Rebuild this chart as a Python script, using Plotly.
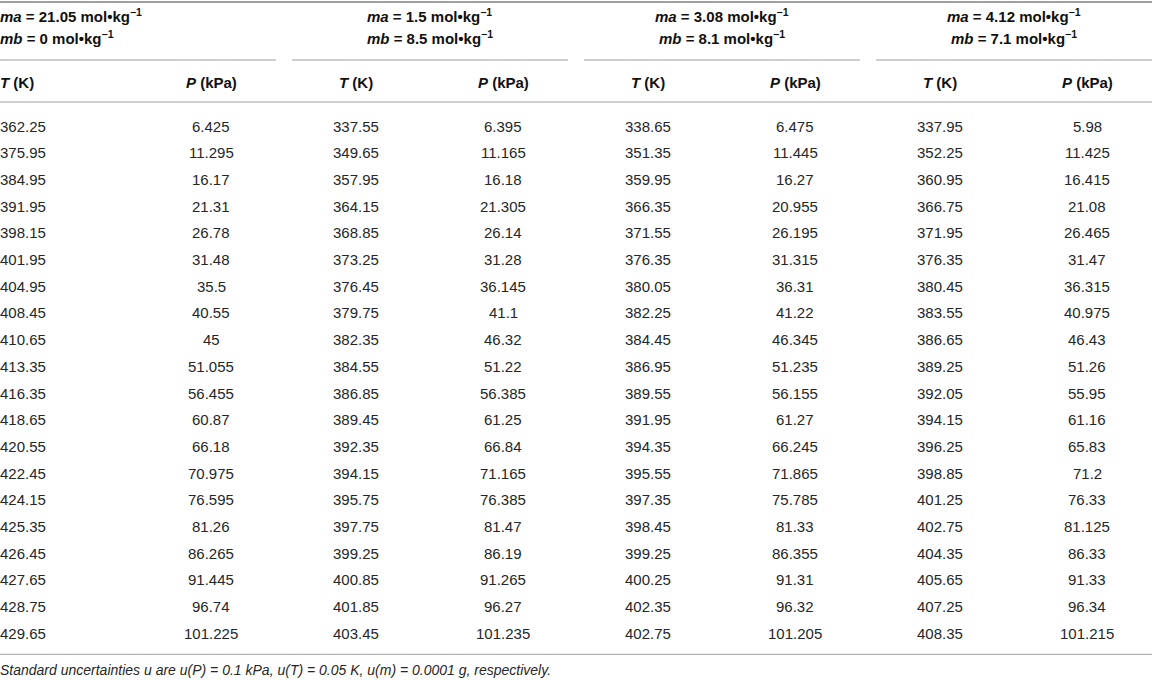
import plotly.graph_objects as go

# molalities of each measured series
ma_vals = ["21.05", "1.5", "3.08", "4.12"]
mb_vals = ["0", "8.5", "8.1", "7.1"]

# boiling temperatures (K) and pressures (kPa)
t_1 = ["362.25", "375.95", "384.95", "391.95", "398.15", "401.95", "404.95", "408.45", "410.65", "413.35",
       "416.35", "418.65", "420.55", "422.45", "424.15", "425.35", "426.45", "427.65", "428.75", "429.65"]
p_1 = ["6.425", "11.295", "16.17", "21.31", "26.78", "31.48", "35.5", "40.55", "45", "51.055",
       "56.455", "60.87", "66.18", "70.975", "76.595", "81.26", "86.265", "91.445", "96.74", "101.225"]
t_2 = ["337.55", "349.65", "357.95", "364.15", "368.85", "373.25", "376.45", "379.75", "382.35", "384.55",
       "386.85", "389.45", "392.35", "394.15", "395.75", "397.75", "399.25", "400.85", "401.85", "403.45"]
p_2 = ["6.395", "11.165", "16.18", "21.305", "26.14", "31.28", "36.145", "41.1", "46.32", "51.22",
       "56.385", "61.25", "66.84", "71.165", "76.385", "81.47", "86.19", "91.265", "96.27", "101.235"]
t_3 = ["338.65", "351.35", "359.95", "366.35", "371.55", "376.35", "380.05", "382.25", "384.45", "386.95",
       "389.55", "391.95", "394.35", "395.55", "397.35", "398.45", "399.25", "400.25", "402.35", "402.75"]
p_3 = ["6.475", "11.445", "16.27", "20.955", "26.195", "31.315", "36.31", "41.22", "46.345", "51.235",
       "56.155", "61.27", "66.245", "71.865", "75.785", "81.33", "86.355", "91.31", "96.32", "101.205"]
t_4 = ["337.95", "352.25", "360.95", "366.75", "371.95", "376.35", "380.45", "383.55", "386.65", "389.25",
       "392.05", "394.15", "396.25", "398.85", "401.25", "402.75", "404.35", "405.65", "407.25", "408.35"]
p_4 = ["5.98", "11.425", "16.415", "21.08", "26.465", "31.47", "36.315", "40.975", "46.43", "51.26",
       "55.95", "61.16", "65.83", "71.2", "76.33", "81.125", "86.33", "91.33", "96.34", "101.215"]

footnote = ("Standard uncertainties u are u(P) = 0.1 kPa, u(T) = 0.05 K, "
            "u(m) = 0.0001 g, respectively.")

W, H = 1152, 680
FONT = "Liberation Sans, Arial, Helvetica, sans-serif"
TXT = "#262626"
RULE = "#a0a0a0"

group_w = 276
group_gap = 16
t_off, p_off = 64, 211
row0, row_step = 126, 26.7

series = [(t_1, p_1), (t_2, p_2), (t_3, p_3), (t_4, p_4)]

fig = go.Figure()
annotations = []
shapes = []


def add_text(x, y, text, anchor="center", size=15, italic=False, color=TXT):
    annotations.append(dict(
        x=x, y=y, xref="x", yref="y", text=text, showarrow=False,
        xanchor=anchor, yanchor="middle", align=anchor,
        xshift=-2 if anchor == "left" else 0,
        font=dict(family=FONT, size=size, color=color, style="italic" if italic else "normal"),
    ))


def add_rule(x0, x1, y, width=1, color=RULE):
    shapes.append(dict(type="line", xref="x", yref="y", x0=x0, x1=x1, y0=y, y1=y,
                       line=dict(color=color, width=width)))


n_rows = len(t_1)
last_y = row0 + (n_rows - 1) * row_step

add_rule(0, W, 2, width=2)
add_rule(0, W, 102)
add_rule(0, W, last_y + 21)

for g, (ma, mb) in enumerate(zip(ma_vals, mb_vals)):
    x0 = g * (group_w + group_gap)
    x1 = x0 + group_w
    if g == 0:
        hx, hanchor, tx, tanchor = x0, "left", x0, "left"
    else:
        hx, hanchor, tx, tanchor = x0 + (t_off + p_off) / 2, "center", x0 + t_off, "center"
    add_text(hx, 15, f"<b><i>ma</i> = {ma} mol•kg<sup>−1</sup></b>", hanchor, color="#111111")
    add_text(hx, 37, f"<b><i>mb</i> = {mb} mol•kg<sup>−1</sup></b>", hanchor, color="#111111")
    add_rule(x0, x1, 60)
    add_text(tx, 82, "<b><i>T</i> (K)</b>", tanchor, color="#111111")
    add_text(x0 + p_off, 82, "<b><i>P</i> (kPa)</b>", "center", color="#111111")

    t_vals, p_vals = series[g]
    for i, (t, p) in enumerate(zip(t_vals, p_vals)):
        y = row0 + i * row_step
        add_text(tx, y, t, tanchor)
        add_text(x0 + p_off, y, p, "center")

add_text(0, last_y + 37, footnote, "left", size=14, italic=True)

fig.update_layout(
    width=W, height=H,
    margin=dict(l=0, r=0, t=0, b=0),
    paper_bgcolor="white", plot_bgcolor="white",
    xaxis=dict(range=[0, W], visible=False, fixedrange=True),
    yaxis=dict(range=[H, 0], visible=False, fixedrange=True),
    annotations=annotations, shapes=shapes,
    showlegend=False,
)

# page body has a default 8px margin; drop it so the table sits flush
fig.write_html("out.html", config={"displayModeBar": False},
               post_script="document.body.style.margin='0';document.body.style.overflow='hidden';")
